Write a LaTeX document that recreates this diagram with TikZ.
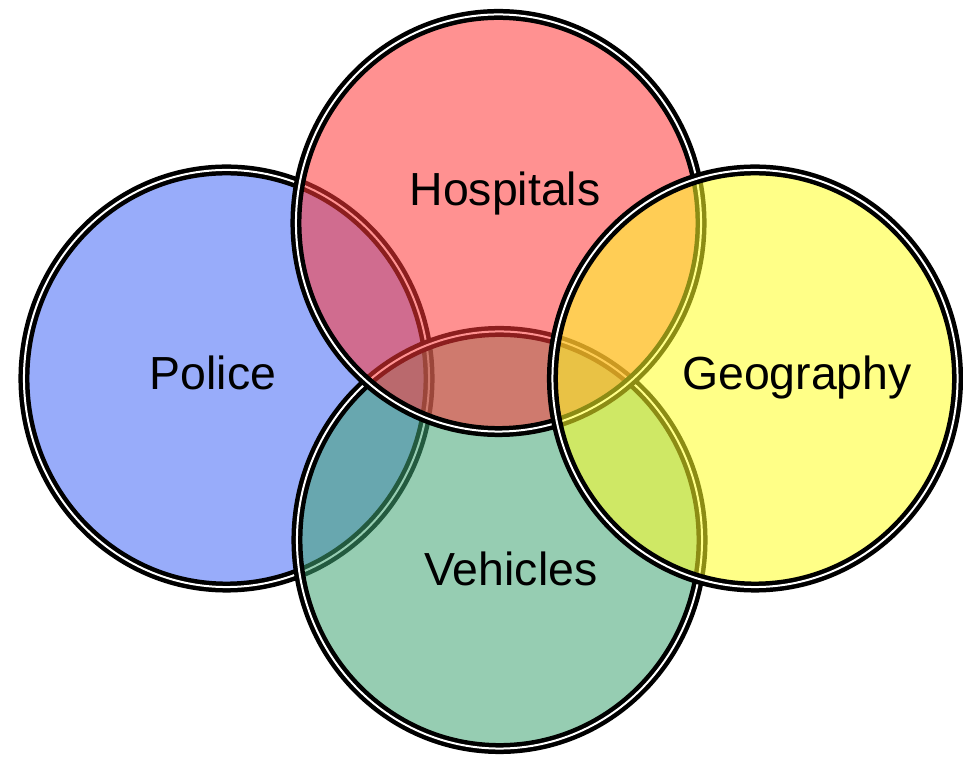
\documentclass[tikz,border=0pt]{standalone}
\usepackage{fontspec}
\setmainfont{Liberation Sans}
\usepackage{xcolor}
\usepackage{tikz}
\usetikzlibrary{shapes.geometric}
\definecolor{vennblue}{RGB}{68,104,246}
\definecolor{vennred}{RGB}{255,55,55}
\definecolor{vennyellow}{RGB}{255,255,37}
\definecolor{venngreen}{RGB}{64,164,115}

\begin{document}
\begin{tikzpicture}[x=0.025cm, y=-0.025cm,
    ring/.style={draw=black, ellipse, minimum width=10.125cm, minimum height=10.425cm, inner sep=0pt,
      line width=4.5*0.025cm, double=white, double distance=2*0.025cm, fill opacity=0.55},
    tag/.style={anchor=base, font=\fontsize{33}{40}\selectfont, text=black}]
  \useasboundingbox (0,0) rectangle (963,760);
  % sets, back to front
  \node[ring, fill=vennblue] (police) at (226.5,378.5) {};
  \node[ring, fill=venngreen] (vehicles) at (499.5,540) {};
  \node[ring, fill=vennred] (hospitals) at (498.5,223) {};
  \node[ring, fill=vennyellow] (geography) at (755,378.5) {};
  % labels
  \node[tag] (policetxt) at (213,390) {Police};
  \node[tag] (hospitalstxt) at (505,206) {Hospitals};
  \node[tag] (geographytxt) at (797,390) {Geography};
  \node[tag] (vehiclestxt) at (511,586) {Vehicles};
\end{tikzpicture}
\end{document}
